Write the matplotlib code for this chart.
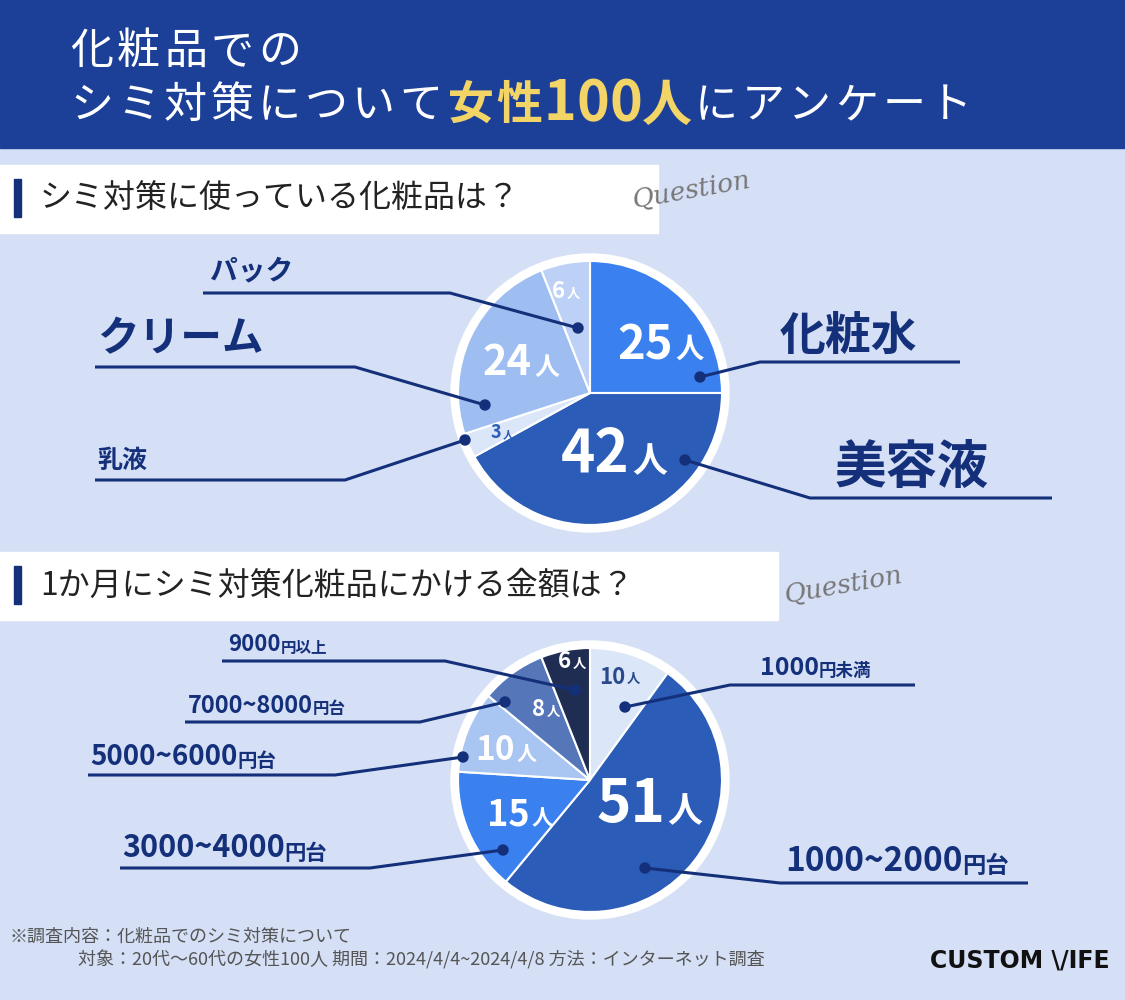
import matplotlib
matplotlib.use("Agg")
import matplotlib.pyplot as plt
from matplotlib.patches import Rectangle, Circle

FONT = "Noto Sans CJK JP"
plt.rcParams["font.family"] = FONT

cats1 = ["化粧水", "美容液", "乳液", "クリーム", "パック"]
vals1 = [25, 42, 3, 24, 6]
cols1 = ["#3a80ef", "#2b5cb8", "#dbe6f9", "#9ebdf1", "#bcd1f5"]

cats2 = ["1000円未満", "1000~2000円台", "3000~4000円台", "5000~6000円台", "7000~8000円台", "9000円以上"]
vals2 = [10, 51, 15, 10, 8, 6]
cols2 = ["#dbe6f9", "#2b5cb8", "#3a80ef", "#a9c5f2", "#5577b9", "#1f2d52"]

NAVY = "#14307a"
fig = plt.figure(figsize=(11.25, 10), dpi=100)
ax = fig.add_axes([0, 0, 1, 1])
ax.set_xlim(0, 1125); ax.set_ylim(0, 1000); ax.set_aspect("equal"); ax.axis("off")
Y = lambda y: 1000 - y
ax.add_patch(Rectangle((0, 0), 1125, 1000, color="#d5dff5", zorder=0))
ax.add_patch(Rectangle((0, Y(148)), 1125, 148, color="#1c3f98", zorder=1))
r = fig.canvas.get_renderer()

def seq(x, y, parts, va="center", gap=0):
    for text, size, color, weight in parts:
        t = ax.text(x, Y(y), text, fontsize=size, color=color, weight=weight, va=va, zorder=5)
        bb = t.get_window_extent(renderer=r)
        x += bb.width + gap

def spaced(x, y, text, size, color, weight, gap):
    for ch in text:
        t = ax.text(x, Y(y), ch, fontsize=size, color=color, weight=weight, va="center", zorder=5)
        x += t.get_window_extent(renderer=r).width + gap
    return x

spaced(70, 52, "化粧品での", 31, "white", "normal", 4)
x = spaced(70, 106, "シミ対策について", 31, "white", "normal", 4)
x = spaced(x + 2, 106, "女性", 33, "#f2d467", "bold", 2)
x = spaced(x, 104, "100", 40, "#f2d467", "bold", 0)
x = spaced(x, 106, "人", 36, "#f2d467", "bold", 2)
spaced(x, 106, "にアンケート", 31, "white", "normal", 4)

def header(y0, w, text, qx, qy):
    ax.add_patch(Rectangle((0, Y(y0 + 68)), w, 68, color="white", zorder=2))
    ax.add_patch(Rectangle((14, Y(y0 + 52)), 7, 38, color=NAVY, zorder=3))
    ax.text(40, Y(y0 + 34), text, fontsize=23, va="center", color="#222", zorder=3)
    ax.text(qx, Y(qy), "Question", fontsize=19, style="italic", color="#777", rotation=10,
            va="center", family="DejaVu Serif", zorder=4)

header(165, 658, "シミ対策に使っている化粧品は？", 630, 190)
header(552, 778, "1か月にシミ対策化粧品にかける金額は？", 782, 585)

def pie(vals, cols, cx, cy, rad):
    ax.add_patch(Circle((cx, Y(cy)), rad + 7, color="white", zorder=2))
    w, _ = ax.pie(vals, colors=cols, startangle=90, counterclock=False, center=(cx, Y(cy)),
                  radius=rad, wedgeprops=dict(edgecolor="white", linewidth=1.5), frame=True)
    for p in w: p.set_zorder(3)
    ax.set_xlim(0, 1125); ax.set_ylim(0, 1000); ax.axis("off")

pie(vals1, cols1, 590, 393, 132)
pie(vals2, cols2, 590, 780, 132)

def num(x, y, v, size, color="white"):
    ax.text(x, Y(y), str(v), fontsize=size, weight="bold", color=color, ha="right", va="center", zorder=5)
    ax.text(x + 2, Y(y + size * 0.15), "人", fontsize=size * 0.6, weight="bold", color=color, ha="left", va="center", zorder=5)

num(673, 345, vals1[0], 34); num(630, 455, vals1[1], 42); num(501, 433, vals1[2], 13, "#2b5cb8")
num(532, 363, vals1[3], 30); num(565, 292, vals1[4], 16)
num(625, 677, vals2[0], 16, "#2b4a8a"); num(665, 805, vals2[1], 42); num(530, 815, vals2[2], 26)
num(515, 750, vals2[3], 24); num(545, 710, vals2[4], 16); num(571, 662, vals2[5], 16)

def leader(pts, dot):
    xs = [p[0] for p in pts]; ys = [Y(p[1]) for p in pts]
    ax.plot(xs, ys, color=NAVY, lw=2.2, zorder=6, solid_capstyle="butt")
    ax.add_patch(Circle((dot[0], Y(dot[1])), 5, color=NAVY, zorder=7))

def label(x, y, text, size):
    if "円" in text:
        i = text.index("円")
        seq(x, y, [(text[:i], size, NAVY, "bold"), (text[i:], size * 0.7, NAVY, "bold")], va="bottom")
    else:
        ax.text(x, Y(y), text, fontsize=size, weight="bold", color=NAVY, va="bottom", zorder=6)

leader([(960, 362), (760, 362), (700, 377)], (700, 377)); label(780, 360, cats1[0], 33)
leader([(1052, 498), (810, 498), (685, 460)], (685, 460)); label(835, 494, cats1[1], 37)
leader([(95, 480), (345, 480), (465, 440)], (465, 440)); label(97, 473, cats1[2], 18)
leader([(95, 367), (355, 367), (485, 405)], (485, 405)); label(97, 360, cats1[3], 30)
leader([(203, 293), (450, 293), (578, 328)], (578, 328)); label(210, 285, cats1[4], 20)

leader([(915, 685), (730, 685), (625, 707)], (625, 707)); label(760, 680, cats2[0], 18)
leader([(1028, 883), (780, 883), (645, 868)], (645, 868)); label(785, 878, cats2[1], 24)
leader([(120, 868), (370, 868), (503, 850)], (503, 850)); label(122, 864, cats2[2], 22)
leader([(88, 775), (335, 775), (463, 757)], (463, 757)); label(90, 771, cats2[3], 20)
leader([(185, 722), (420, 722), (505, 702)], (505, 702)); label(188, 718, cats2[4], 17)
leader([(222, 661), (445, 661), (575, 690)], (575, 690)); label(228, 656, cats2[5], 16)

ax.text(10, Y(937), "※調査内容：化粧品でのシミ対策について", fontsize=13, color="#555", va="center")
ax.text(78, Y(960), "対象：20代〜60代の女性100人 期間：2024/4/4~2024/4/8 方法：インターネット調査",
        fontsize=13, color="#555", va="center")
ax.text(930, Y(960), "CUSTOM \\/IFE", fontsize=17, weight="bold", color="#111", va="center",
        family="DejaVu Sans")
fig.savefig("out.png", dpi=100)
